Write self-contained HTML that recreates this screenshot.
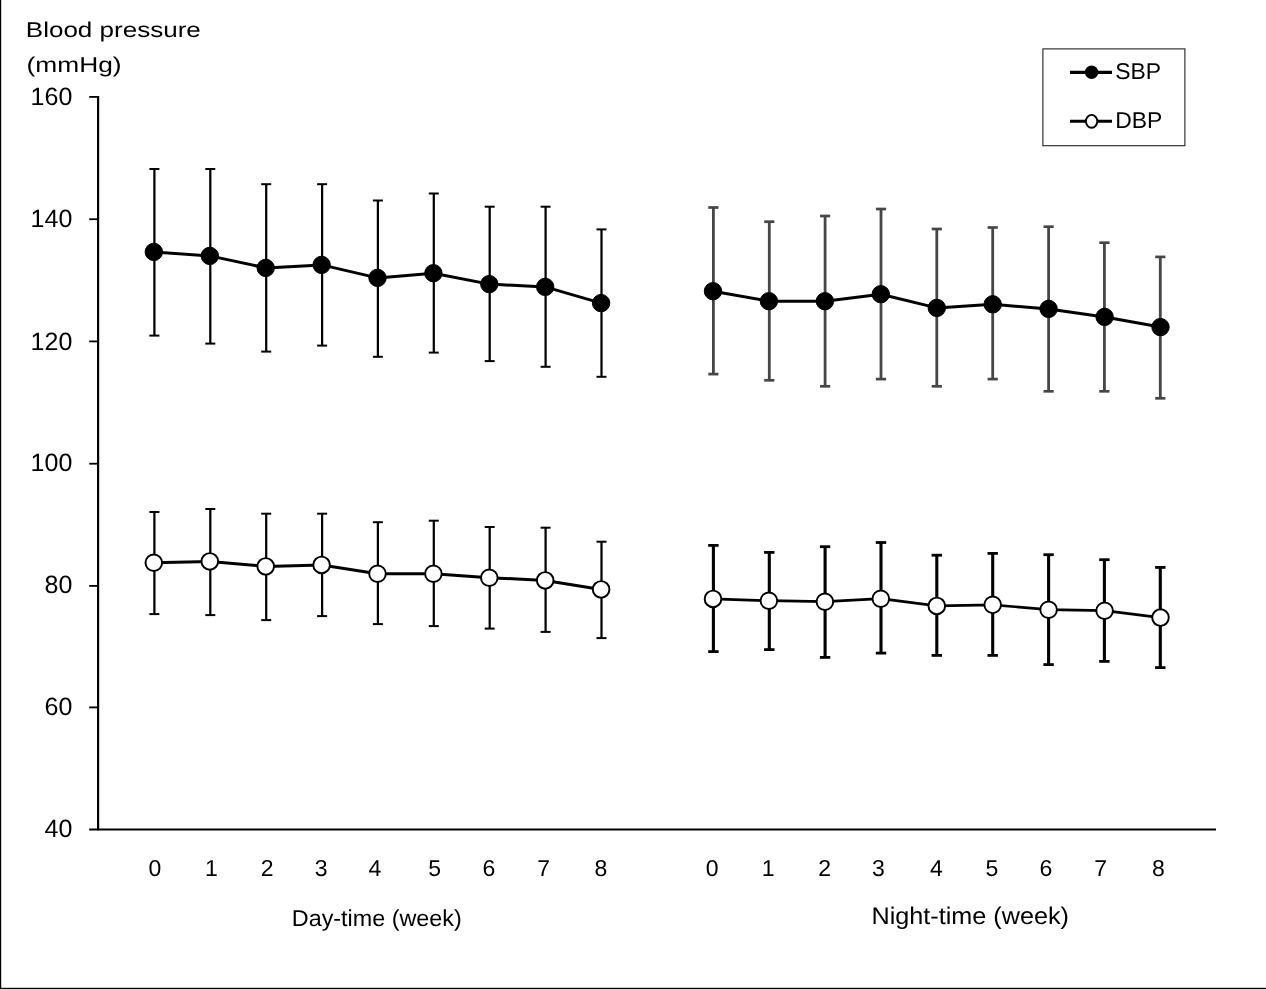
<!DOCTYPE html>
<html><head><meta charset="utf-8"><title>Blood pressure chart</title>
<style>
html,body{margin:0;padding:0;background:#fff;}
body{width:1266px;height:989px;overflow:hidden;font-family:"Liberation Sans",sans-serif;}
svg{display:block;will-change:transform;}
</style></head><body>
<svg width="1266" height="989" viewBox="0 0 1266 989" font-family="'Liberation Sans', sans-serif" fill="#000" text-rendering="geometricPrecision">
<rect x="0" y="0" width="1266" height="989" fill="#fff"/>
<rect x="0" y="0" width="1.2" height="989" fill="#000"/>
<rect x="0" y="987.8" width="1266" height="1.2" fill="#000"/>
<line x1="98.1" y1="96" x2="98.1" y2="830.2" stroke="#000" stroke-width="2.2"/>
<line x1="89.2" y1="829.5" x2="1216" y2="829.5" stroke="#000" stroke-width="2"/>
<line x1="89.2" y1="96.9" x2="98.3" y2="96.9" stroke="#000" stroke-width="1.8"/>
<text x="72.3" y="104.7" font-size="25" text-anchor="end">160</text>
<line x1="89.2" y1="219.2" x2="98.3" y2="219.2" stroke="#000" stroke-width="1.8"/>
<text x="72.3" y="227.2" font-size="25" text-anchor="end">140</text>
<line x1="89.2" y1="341.4" x2="98.3" y2="341.4" stroke="#000" stroke-width="1.8"/>
<text x="72.3" y="349.7" font-size="25" text-anchor="end">120</text>
<line x1="89.2" y1="463.7" x2="98.3" y2="463.7" stroke="#000" stroke-width="1.8"/>
<text x="72.3" y="470.7" font-size="25" text-anchor="end">100</text>
<line x1="89.2" y1="585.9" x2="98.3" y2="585.9" stroke="#000" stroke-width="1.8"/>
<text x="72.3" y="592.8" font-size="25" text-anchor="end">80</text>
<line x1="89.2" y1="707.4" x2="98.3" y2="707.4" stroke="#000" stroke-width="1.8"/>
<text x="72.3" y="715.3" font-size="25" text-anchor="end">60</text>
<text x="72.3" y="837.4" font-size="25" text-anchor="end">40</text>
<text x="25.8" y="36.6" font-size="21.4" textLength="175" lengthAdjust="spacingAndGlyphs">Blood pressure</text>
<text x="26.6" y="71.6" font-size="21.4" textLength="95" lengthAdjust="spacingAndGlyphs">(mmHg)</text>
<line x1="154.4" y1="169.0" x2="154.4" y2="335.6" stroke="#000" stroke-width="2.25"/>
<line x1="149.4" y1="169.0" x2="159.4" y2="169.0" stroke="#000" stroke-width="2"/>
<line x1="149.4" y1="335.6" x2="159.4" y2="335.6" stroke="#000" stroke-width="2"/>
<line x1="210.3" y1="169.0" x2="210.3" y2="343.6" stroke="#000" stroke-width="2.25"/>
<line x1="205.3" y1="169.0" x2="215.3" y2="169.0" stroke="#000" stroke-width="2"/>
<line x1="205.3" y1="343.6" x2="215.3" y2="343.6" stroke="#000" stroke-width="2"/>
<line x1="266.2" y1="184.2" x2="266.2" y2="351.6" stroke="#000" stroke-width="2.25"/>
<line x1="261.2" y1="184.2" x2="271.2" y2="184.2" stroke="#000" stroke-width="2"/>
<line x1="261.2" y1="351.6" x2="271.2" y2="351.6" stroke="#000" stroke-width="2"/>
<line x1="322.1" y1="184.2" x2="322.1" y2="345.6" stroke="#000" stroke-width="2.25"/>
<line x1="317.1" y1="184.2" x2="327.1" y2="184.2" stroke="#000" stroke-width="2"/>
<line x1="317.1" y1="345.6" x2="327.1" y2="345.6" stroke="#000" stroke-width="2"/>
<line x1="377.9" y1="200.5" x2="377.9" y2="356.8" stroke="#000" stroke-width="2.25"/>
<line x1="372.9" y1="200.5" x2="382.9" y2="200.5" stroke="#000" stroke-width="2"/>
<line x1="372.9" y1="356.8" x2="382.9" y2="356.8" stroke="#000" stroke-width="2"/>
<line x1="433.8" y1="193.5" x2="433.8" y2="352.6" stroke="#000" stroke-width="2.25"/>
<line x1="428.8" y1="193.5" x2="438.8" y2="193.5" stroke="#000" stroke-width="2"/>
<line x1="428.8" y1="352.6" x2="438.8" y2="352.6" stroke="#000" stroke-width="2"/>
<line x1="489.7" y1="206.7" x2="489.7" y2="361.1" stroke="#000" stroke-width="2.25"/>
<line x1="484.7" y1="206.7" x2="494.7" y2="206.7" stroke="#000" stroke-width="2"/>
<line x1="484.7" y1="361.1" x2="494.7" y2="361.1" stroke="#000" stroke-width="2"/>
<line x1="545.6" y1="206.7" x2="545.6" y2="366.8" stroke="#000" stroke-width="2.25"/>
<line x1="540.6" y1="206.7" x2="550.6" y2="206.7" stroke="#000" stroke-width="2"/>
<line x1="540.6" y1="366.8" x2="550.6" y2="366.8" stroke="#000" stroke-width="2"/>
<line x1="601.5" y1="229.4" x2="601.5" y2="376.8" stroke="#000" stroke-width="2.25"/>
<line x1="596.5" y1="229.4" x2="606.5" y2="229.4" stroke="#000" stroke-width="2"/>
<line x1="596.5" y1="376.8" x2="606.5" y2="376.8" stroke="#000" stroke-width="2"/>
<line x1="713.4" y1="207.5" x2="713.4" y2="374.1" stroke="#464646" stroke-width="2.8"/>
<line x1="708.3" y1="207.5" x2="718.5" y2="207.5" stroke="#464646" stroke-width="2.7"/>
<line x1="708.3" y1="374.1" x2="718.5" y2="374.1" stroke="#464646" stroke-width="2.7"/>
<line x1="769.3" y1="221.7" x2="769.3" y2="380.3" stroke="#464646" stroke-width="2.8"/>
<line x1="764.2" y1="221.7" x2="774.4" y2="221.7" stroke="#464646" stroke-width="2.7"/>
<line x1="764.2" y1="380.3" x2="774.4" y2="380.3" stroke="#464646" stroke-width="2.7"/>
<line x1="825.1" y1="216.0" x2="825.1" y2="386.3" stroke="#464646" stroke-width="2.8"/>
<line x1="820.0" y1="216.0" x2="830.2" y2="216.0" stroke="#464646" stroke-width="2.7"/>
<line x1="820.0" y1="386.3" x2="830.2" y2="386.3" stroke="#464646" stroke-width="2.7"/>
<line x1="881.0" y1="209.0" x2="881.0" y2="379.1" stroke="#464646" stroke-width="2.8"/>
<line x1="875.9" y1="209.0" x2="886.1" y2="209.0" stroke="#464646" stroke-width="2.7"/>
<line x1="875.9" y1="379.1" x2="886.1" y2="379.1" stroke="#464646" stroke-width="2.7"/>
<line x1="936.8" y1="229.0" x2="936.8" y2="386.3" stroke="#464646" stroke-width="2.8"/>
<line x1="931.7" y1="229.0" x2="941.9" y2="229.0" stroke="#464646" stroke-width="2.7"/>
<line x1="931.7" y1="386.3" x2="941.9" y2="386.3" stroke="#464646" stroke-width="2.7"/>
<line x1="992.7" y1="227.5" x2="992.7" y2="379.1" stroke="#464646" stroke-width="2.8"/>
<line x1="987.6" y1="227.5" x2="997.8" y2="227.5" stroke="#464646" stroke-width="2.7"/>
<line x1="987.6" y1="379.1" x2="997.8" y2="379.1" stroke="#464646" stroke-width="2.7"/>
<line x1="1048.6" y1="226.7" x2="1048.6" y2="391.3" stroke="#464646" stroke-width="2.8"/>
<line x1="1043.5" y1="226.7" x2="1053.7" y2="226.7" stroke="#464646" stroke-width="2.7"/>
<line x1="1043.5" y1="391.3" x2="1053.7" y2="391.3" stroke="#464646" stroke-width="2.7"/>
<line x1="1104.4" y1="242.7" x2="1104.4" y2="391.3" stroke="#464646" stroke-width="2.8"/>
<line x1="1099.3" y1="242.7" x2="1109.5" y2="242.7" stroke="#464646" stroke-width="2.7"/>
<line x1="1099.3" y1="391.3" x2="1109.5" y2="391.3" stroke="#464646" stroke-width="2.7"/>
<line x1="1160.3" y1="256.9" x2="1160.3" y2="398.3" stroke="#464646" stroke-width="2.8"/>
<line x1="1155.2" y1="256.9" x2="1165.4" y2="256.9" stroke="#464646" stroke-width="2.7"/>
<line x1="1155.2" y1="398.3" x2="1165.4" y2="398.3" stroke="#464646" stroke-width="2.7"/>
<line x1="154.4" y1="512.0" x2="154.4" y2="614.1" stroke="#000" stroke-width="2.25"/>
<line x1="149.4" y1="512.0" x2="159.4" y2="512.0" stroke="#000" stroke-width="2"/>
<line x1="149.4" y1="614.1" x2="159.4" y2="614.1" stroke="#000" stroke-width="2"/>
<line x1="210.3" y1="509.0" x2="210.3" y2="615.1" stroke="#000" stroke-width="2.25"/>
<line x1="205.3" y1="509.0" x2="215.3" y2="509.0" stroke="#000" stroke-width="2"/>
<line x1="205.3" y1="615.1" x2="215.3" y2="615.1" stroke="#000" stroke-width="2"/>
<line x1="266.2" y1="513.7" x2="266.2" y2="620.1" stroke="#000" stroke-width="2.25"/>
<line x1="261.2" y1="513.7" x2="271.2" y2="513.7" stroke="#000" stroke-width="2"/>
<line x1="261.2" y1="620.1" x2="271.2" y2="620.1" stroke="#000" stroke-width="2"/>
<line x1="322.1" y1="513.7" x2="322.1" y2="616.1" stroke="#000" stroke-width="2.25"/>
<line x1="317.1" y1="513.7" x2="327.1" y2="513.7" stroke="#000" stroke-width="2"/>
<line x1="317.1" y1="616.1" x2="327.1" y2="616.1" stroke="#000" stroke-width="2"/>
<line x1="377.9" y1="522.2" x2="377.9" y2="624.1" stroke="#000" stroke-width="2.25"/>
<line x1="372.9" y1="522.2" x2="382.9" y2="522.2" stroke="#000" stroke-width="2"/>
<line x1="372.9" y1="624.1" x2="382.9" y2="624.1" stroke="#000" stroke-width="2"/>
<line x1="433.8" y1="520.7" x2="433.8" y2="626.1" stroke="#000" stroke-width="2.25"/>
<line x1="428.8" y1="520.7" x2="438.8" y2="520.7" stroke="#000" stroke-width="2"/>
<line x1="428.8" y1="626.1" x2="438.8" y2="626.1" stroke="#000" stroke-width="2"/>
<line x1="489.7" y1="527.0" x2="489.7" y2="628.6" stroke="#000" stroke-width="2.25"/>
<line x1="484.7" y1="527.0" x2="494.7" y2="527.0" stroke="#000" stroke-width="2"/>
<line x1="484.7" y1="628.6" x2="494.7" y2="628.6" stroke="#000" stroke-width="2"/>
<line x1="545.6" y1="527.7" x2="545.6" y2="631.9" stroke="#000" stroke-width="2.25"/>
<line x1="540.6" y1="527.7" x2="550.6" y2="527.7" stroke="#000" stroke-width="2"/>
<line x1="540.6" y1="631.9" x2="550.6" y2="631.9" stroke="#000" stroke-width="2"/>
<line x1="601.5" y1="541.7" x2="601.5" y2="638.1" stroke="#000" stroke-width="2.25"/>
<line x1="596.5" y1="541.7" x2="606.5" y2="541.7" stroke="#000" stroke-width="2"/>
<line x1="596.5" y1="638.1" x2="606.5" y2="638.1" stroke="#000" stroke-width="2"/>
<line x1="713.4" y1="545.4" x2="713.4" y2="651.6" stroke="#000" stroke-width="3.1"/>
<line x1="708.2" y1="545.4" x2="718.6" y2="545.4" stroke="#000" stroke-width="2.8"/>
<line x1="708.2" y1="651.6" x2="718.6" y2="651.6" stroke="#000" stroke-width="2.8"/>
<line x1="769.3" y1="552.4" x2="769.3" y2="649.6" stroke="#000" stroke-width="3.1"/>
<line x1="764.1" y1="552.4" x2="774.5" y2="552.4" stroke="#000" stroke-width="2.8"/>
<line x1="764.1" y1="649.6" x2="774.5" y2="649.6" stroke="#000" stroke-width="2.8"/>
<line x1="825.1" y1="546.7" x2="825.1" y2="657.4" stroke="#000" stroke-width="3.1"/>
<line x1="819.9" y1="546.7" x2="830.3" y2="546.7" stroke="#000" stroke-width="2.8"/>
<line x1="819.9" y1="657.4" x2="830.3" y2="657.4" stroke="#000" stroke-width="2.8"/>
<line x1="881.0" y1="542.5" x2="881.0" y2="653.1" stroke="#000" stroke-width="3.1"/>
<line x1="875.8" y1="542.5" x2="886.2" y2="542.5" stroke="#000" stroke-width="2.8"/>
<line x1="875.8" y1="653.1" x2="886.2" y2="653.1" stroke="#000" stroke-width="2.8"/>
<line x1="936.8" y1="555.2" x2="936.8" y2="655.4" stroke="#000" stroke-width="3.1"/>
<line x1="931.6" y1="555.2" x2="942.0" y2="555.2" stroke="#000" stroke-width="2.8"/>
<line x1="931.6" y1="655.4" x2="942.0" y2="655.4" stroke="#000" stroke-width="2.8"/>
<line x1="992.7" y1="553.4" x2="992.7" y2="655.4" stroke="#000" stroke-width="3.1"/>
<line x1="987.5" y1="553.4" x2="997.9" y2="553.4" stroke="#000" stroke-width="2.8"/>
<line x1="987.5" y1="655.4" x2="997.9" y2="655.4" stroke="#000" stroke-width="2.8"/>
<line x1="1048.6" y1="554.7" x2="1048.6" y2="664.6" stroke="#000" stroke-width="3.1"/>
<line x1="1043.4" y1="554.7" x2="1053.8" y2="554.7" stroke="#000" stroke-width="2.8"/>
<line x1="1043.4" y1="664.6" x2="1053.8" y2="664.6" stroke="#000" stroke-width="2.8"/>
<line x1="1104.4" y1="559.7" x2="1104.4" y2="661.4" stroke="#000" stroke-width="3.1"/>
<line x1="1099.2" y1="559.7" x2="1109.6" y2="559.7" stroke="#000" stroke-width="2.8"/>
<line x1="1099.2" y1="661.4" x2="1109.6" y2="661.4" stroke="#000" stroke-width="2.8"/>
<line x1="1160.3" y1="567.4" x2="1160.3" y2="667.6" stroke="#000" stroke-width="3.1"/>
<line x1="1155.1" y1="567.4" x2="1165.5" y2="567.4" stroke="#000" stroke-width="2.8"/>
<line x1="1155.1" y1="667.6" x2="1165.5" y2="667.6" stroke="#000" stroke-width="2.8"/>
<polyline points="153.8,251.9 209.8,255.9 265.7,267.9 321.6,264.9 377.5,277.9 433.4,273.2 489.3,284.1 545.2,286.9 601.1,303.1" fill="none" stroke="#000" stroke-width="3.0" stroke-linejoin="round"/>
<circle cx="153.8" cy="251.9" r="8.7" fill="#000" stroke="#000" stroke-width="1"/>
<circle cx="209.8" cy="255.9" r="8.7" fill="#000" stroke="#000" stroke-width="1"/>
<circle cx="265.7" cy="267.9" r="8.7" fill="#000" stroke="#000" stroke-width="1"/>
<circle cx="321.6" cy="264.9" r="8.7" fill="#000" stroke="#000" stroke-width="1"/>
<circle cx="377.5" cy="277.9" r="8.7" fill="#000" stroke="#000" stroke-width="1"/>
<circle cx="433.4" cy="273.2" r="8.7" fill="#000" stroke="#000" stroke-width="1"/>
<circle cx="489.3" cy="284.1" r="8.7" fill="#000" stroke="#000" stroke-width="1"/>
<circle cx="545.2" cy="286.9" r="8.7" fill="#000" stroke="#000" stroke-width="1"/>
<circle cx="601.1" cy="303.1" r="8.7" fill="#000" stroke="#000" stroke-width="1"/>
<polyline points="713.0,291.2 768.9,301.2 824.9,301.2 880.8,294.2 936.8,307.9 992.7,304.3 1048.6,308.9 1104.6,316.9 1160.5,327.1" fill="none" stroke="#000" stroke-width="3.0" stroke-linejoin="round"/>
<circle cx="713.0" cy="291.2" r="8.7" fill="#000" stroke="#000" stroke-width="1"/>
<circle cx="768.9" cy="301.2" r="8.7" fill="#000" stroke="#000" stroke-width="1"/>
<circle cx="824.9" cy="301.2" r="8.7" fill="#000" stroke="#000" stroke-width="1"/>
<circle cx="880.8" cy="294.2" r="8.7" fill="#000" stroke="#000" stroke-width="1"/>
<circle cx="936.8" cy="307.9" r="8.7" fill="#000" stroke="#000" stroke-width="1"/>
<circle cx="992.7" cy="304.3" r="8.7" fill="#000" stroke="#000" stroke-width="1"/>
<circle cx="1048.6" cy="308.9" r="8.7" fill="#000" stroke="#000" stroke-width="1"/>
<circle cx="1104.6" cy="316.9" r="8.7" fill="#000" stroke="#000" stroke-width="1"/>
<circle cx="1160.5" cy="327.1" r="8.7" fill="#000" stroke="#000" stroke-width="1"/>
<polyline points="153.8,562.7 209.8,561.4 265.7,566.4 321.6,564.9 377.5,573.7 433.4,573.7 489.3,577.7 545.2,580.4 601.1,589.4" fill="none" stroke="#000" stroke-width="3.0" stroke-linejoin="round"/>
<circle cx="153.8" cy="562.7" r="8.3" fill="#fff" stroke="#000" stroke-width="1.95"/>
<circle cx="209.8" cy="561.4" r="8.3" fill="#fff" stroke="#000" stroke-width="1.95"/>
<circle cx="265.7" cy="566.4" r="8.3" fill="#fff" stroke="#000" stroke-width="1.95"/>
<circle cx="321.6" cy="564.9" r="8.3" fill="#fff" stroke="#000" stroke-width="1.95"/>
<circle cx="377.5" cy="573.7" r="8.3" fill="#fff" stroke="#000" stroke-width="1.95"/>
<circle cx="433.4" cy="573.7" r="8.3" fill="#fff" stroke="#000" stroke-width="1.95"/>
<circle cx="489.3" cy="577.7" r="8.3" fill="#fff" stroke="#000" stroke-width="1.95"/>
<circle cx="545.2" cy="580.4" r="8.3" fill="#fff" stroke="#000" stroke-width="1.95"/>
<circle cx="601.1" cy="589.4" r="8.3" fill="#fff" stroke="#000" stroke-width="1.95"/>
<polyline points="713.0,598.9 768.9,600.7 824.9,601.7 880.8,598.7 936.8,605.9 992.7,604.8 1048.6,609.7 1104.6,610.7 1160.5,617.6" fill="none" stroke="#000" stroke-width="2.7" stroke-linejoin="round"/>
<circle cx="713.0" cy="598.9" r="8.3" fill="#fff" stroke="#000" stroke-width="1.95"/>
<circle cx="768.9" cy="600.7" r="8.3" fill="#fff" stroke="#000" stroke-width="1.95"/>
<circle cx="824.9" cy="601.7" r="8.3" fill="#fff" stroke="#000" stroke-width="1.95"/>
<circle cx="880.8" cy="598.7" r="8.3" fill="#fff" stroke="#000" stroke-width="1.95"/>
<circle cx="936.8" cy="605.9" r="8.3" fill="#fff" stroke="#000" stroke-width="1.95"/>
<circle cx="992.7" cy="604.8" r="8.3" fill="#fff" stroke="#000" stroke-width="1.95"/>
<circle cx="1048.6" cy="609.7" r="8.3" fill="#fff" stroke="#000" stroke-width="1.95"/>
<circle cx="1104.6" cy="610.7" r="8.3" fill="#fff" stroke="#000" stroke-width="1.95"/>
<circle cx="1160.5" cy="617.6" r="8.3" fill="#fff" stroke="#000" stroke-width="1.95"/>
<text x="155.0" y="876.1" font-size="23" text-anchor="middle">0</text>
<text x="211.4" y="876.1" font-size="23" text-anchor="middle">1</text>
<text x="267.1" y="876.1" font-size="23" text-anchor="middle">2</text>
<text x="321.1" y="876.1" font-size="23" text-anchor="middle">3</text>
<text x="374.8" y="876.1" font-size="23" text-anchor="middle">4</text>
<text x="434.7" y="876.1" font-size="23" text-anchor="middle">5</text>
<text x="488.8" y="876.1" font-size="23" text-anchor="middle">6</text>
<text x="543.6" y="876.1" font-size="23" text-anchor="middle">7</text>
<text x="601.0" y="876.1" font-size="23" text-anchor="middle">8</text>
<text x="712.2" y="876.1" font-size="23" text-anchor="middle">0</text>
<text x="768.1" y="876.1" font-size="23" text-anchor="middle">1</text>
<text x="824.6" y="876.1" font-size="23" text-anchor="middle">2</text>
<text x="878.5" y="876.1" font-size="23" text-anchor="middle">3</text>
<text x="936.3" y="876.1" font-size="23" text-anchor="middle">4</text>
<text x="991.9" y="876.1" font-size="23" text-anchor="middle">5</text>
<text x="1046.0" y="876.1" font-size="23" text-anchor="middle">6</text>
<text x="1100.7" y="876.1" font-size="23" text-anchor="middle">7</text>
<text x="1158.5" y="876.1" font-size="23" text-anchor="middle">8</text>
<text x="291.8" y="926.3" font-size="23" textLength="170" lengthAdjust="spacingAndGlyphs">Day-time (week)</text>
<text x="871.5" y="924.3" font-size="24" textLength="197.5" lengthAdjust="spacingAndGlyphs">Night-time (week)</text>
<rect x="1042.9" y="48.9" width="142" height="96.8" fill="#fff" stroke="#222" stroke-width="1.1"/>
<line x1="1070" y1="72.3" x2="1112" y2="72.3" stroke="#000" stroke-width="3.2"/>
<circle cx="1091.6" cy="72.3" r="6.7" fill="#000"/>
<text x="1115.3" y="78.5" font-size="22.9">SBP</text>
<line x1="1070" y1="121.3" x2="1112" y2="121.3" stroke="#000" stroke-width="3"/>
<ellipse cx="1091.6" cy="121.3" rx="5.7" ry="6.4" fill="#fff" stroke="#000" stroke-width="1.9"/>
<text x="1115.3" y="127.6" font-size="22.9">DBP</text>
</svg>
</body></html>
